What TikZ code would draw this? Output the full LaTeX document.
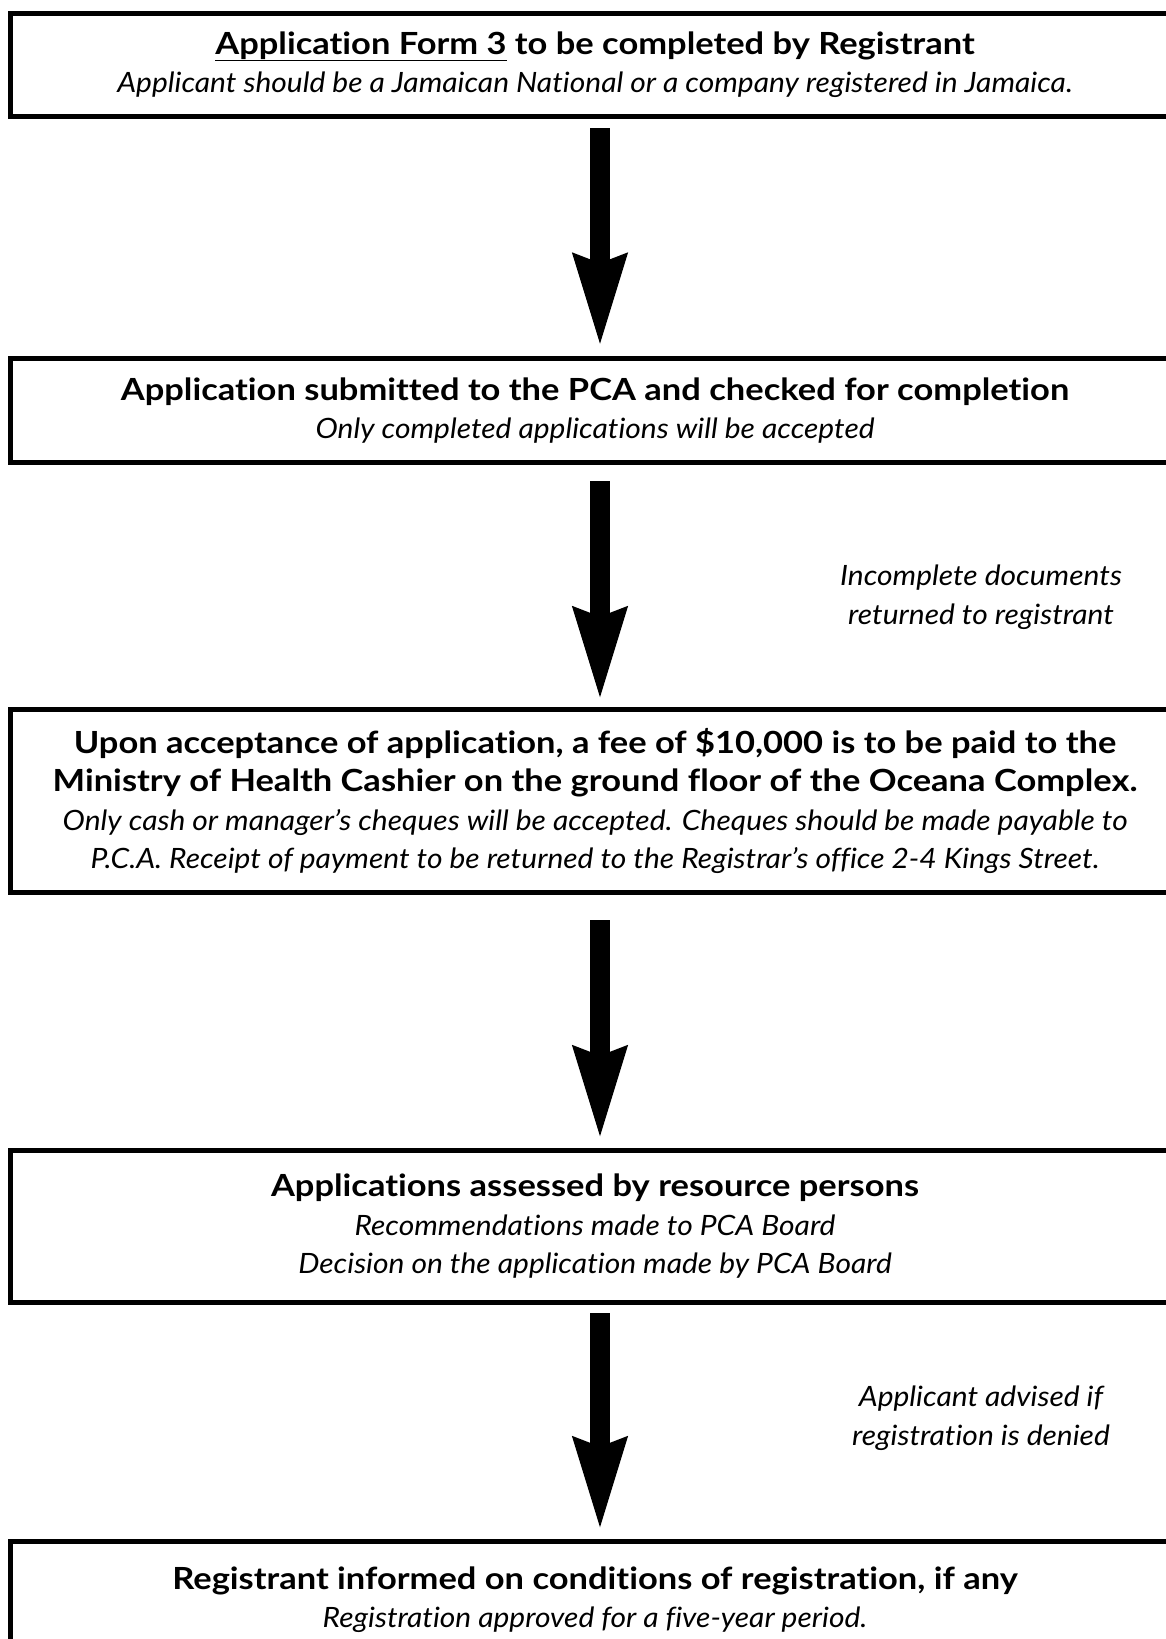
\documentclass[tikz,border=0pt]{standalone}
\usepackage{fontspec}
\setmainfont{Lato}[Ligatures=NoCommon, BoldFeatures={FakeStretch=1.13}, ItalicFeatures={FakeStretch=1.07}]
\usetikzlibrary{arrows.meta}
\newcommand{\bl}{\fontsize{30.5pt}{38.5pt}\selectfont\bfseries}
\newcommand{\il}{\fontsize{28pt}{38.5pt}\selectfont\itshape}
\tikzset{
  stepbox/.style={draw, line width=5pt, minimum width=1170pt, inner sep=0pt,
    align=center, anchor=north, font=\fontsize{30pt}{38.5pt}\selectfont},
  bigarrow/.style={line width=20pt, -{Stealth[length=91pt, width=50pt, inset=7pt]}},
  sidenote/.style={align=center, font=\il}
}
\begin{document}
\begin{tikzpicture}[x=1pt, y=-1pt]
\useasboundingbox (0,0) rectangle (1166,1639);
\clip (0,0) rectangle (1166,1639);
\coordinate (ax) at (600,0);
\node[stepbox, minimum height=103pt] (b1) at (595,10.5)
  {{\bl\underline{Application Form 3} to be completed by Registrant}\\
   {\il Applicant should be a Jamaican National or a company registered in Jamaica.}};
\node[stepbox, minimum height=104pt] (b2) at (595,356)
  {{\bl Application submitted to the PCA and checked for completion}\\
   {\il Only completed applications will be accepted}};
\node[stepbox, minimum height=183pt] (b3) at (595,707)
  {{\bl Upon acceptance of application, a fee of \$10,000 is to be paid to the}\\
   {\bl Ministry of Health Cashier on the ground floor of the Oceana Complex.}\\
   {\il Only cash or manager’s cheques will be accepted. Cheques should be made payable to}\\
   {\il P.C.A. Receipt of payment to be returned to the Registrar’s office 2-4 Kings Street.}};
\node[stepbox, minimum height=152pt] (b4) at (595,1148)
  {{\bl Applications assessed by resource persons}\\
   {\il Recommendations made to PCA Board}\\
   {\il Decision on the application made by PCA Board}};
\node[stepbox, minimum height=116pt] (b5) at (595,1539)
  {{\bl Registrant informed on conditions of registration, if any}\\
   {\il Registration approved for a five-year period.}};
\node[sidenote] (n1) at (981,597) {Incomplete documents\\returned to registrant};
\node[sidenote] (n2) at (981,1418) {Applicant advised if\\registration is denied};
\draw[bigarrow, shorten <=9.5pt, shorten >=8.5pt] (b1.south -| ax) -- (b2.north -| ax);
\draw[bigarrow, shorten <=16pt, shorten >=6pt] (b2.south -| ax) -- (b3.north -| ax);
\draw[bigarrow, shorten <=25pt, shorten >=8pt] (b3.south -| ax) -- (b4.north -| ax);
\draw[bigarrow, shorten <=8pt, shorten >=8pt] (b4.south -| ax) -- (b5.north -| ax);
\end{tikzpicture}
\end{document}
